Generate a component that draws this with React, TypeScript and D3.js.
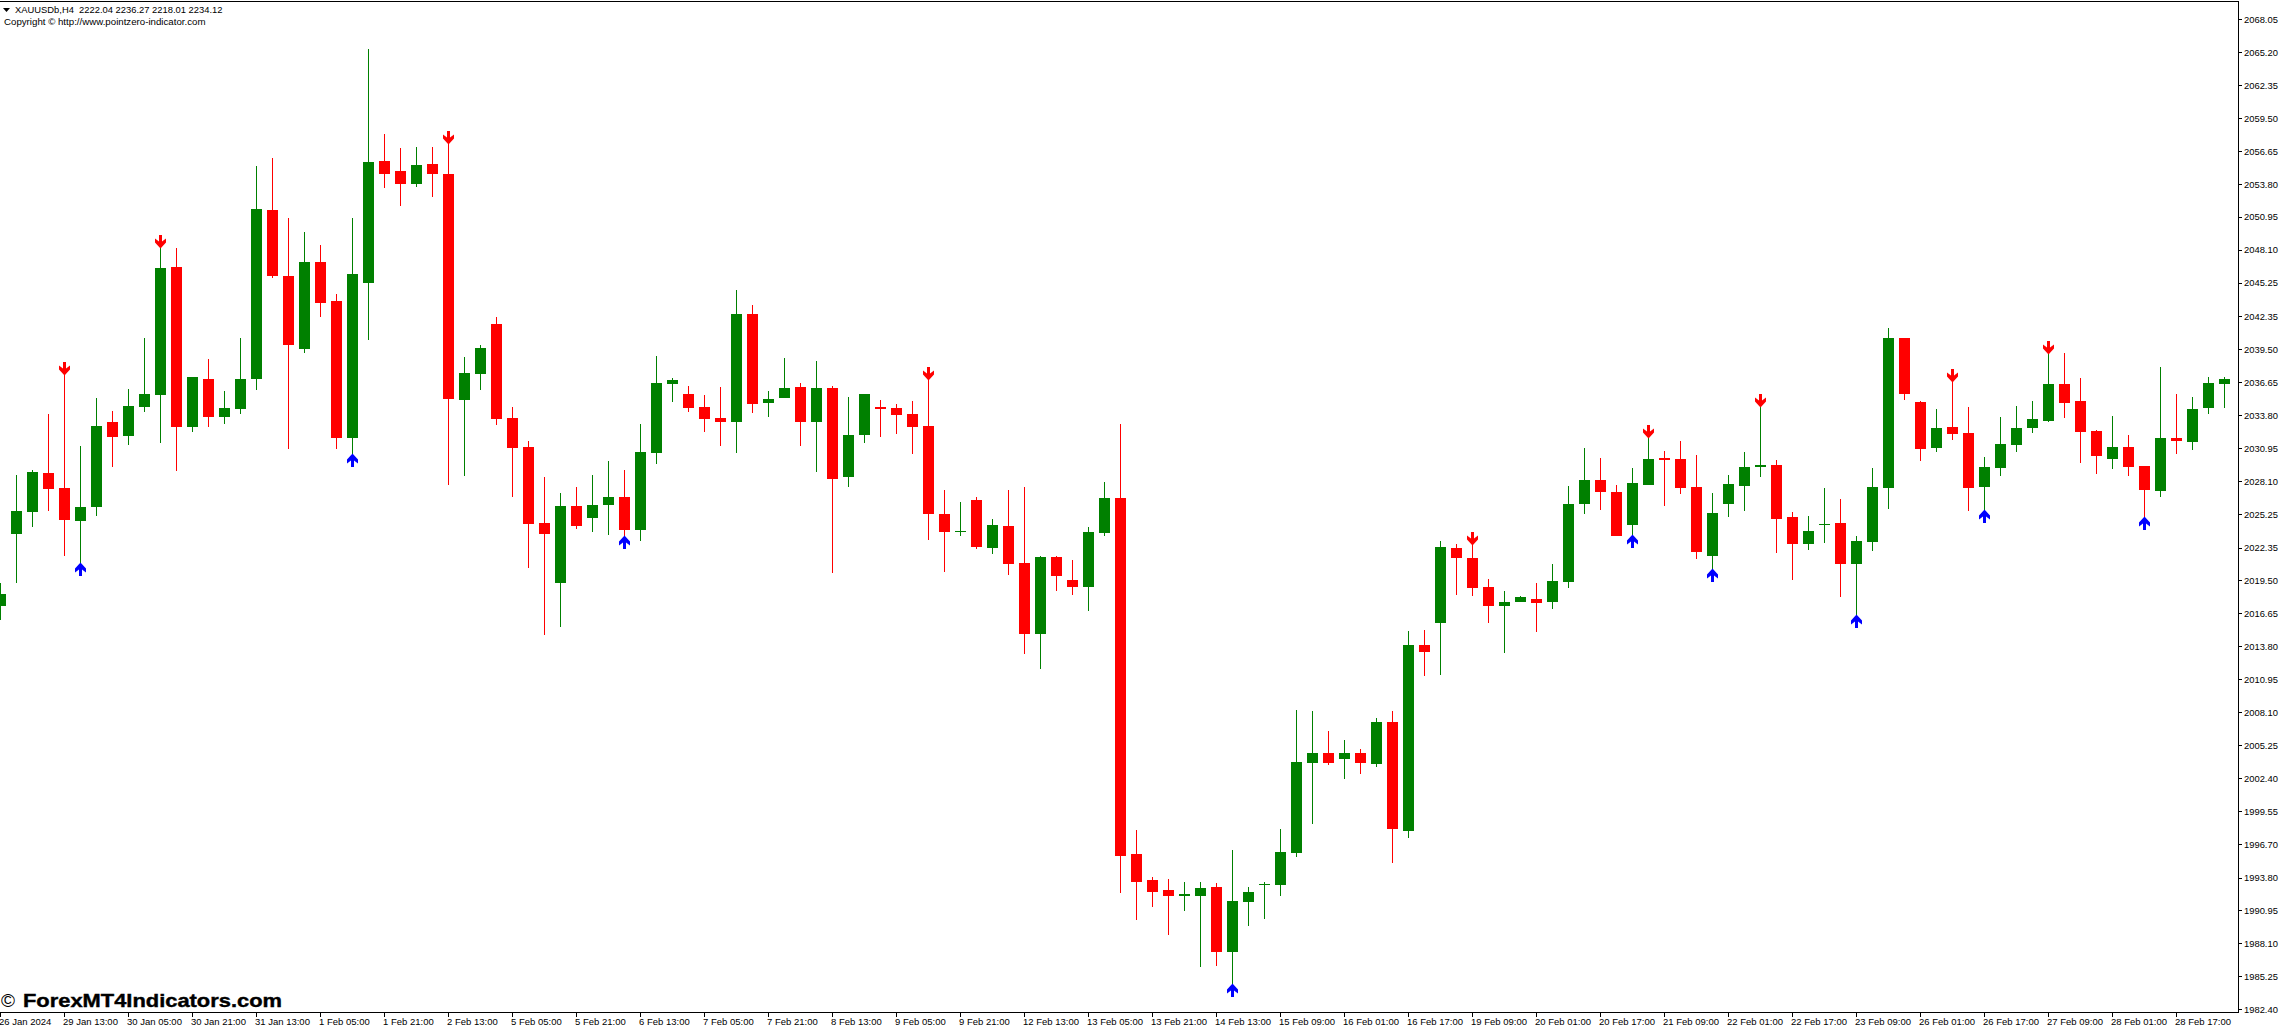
import React, { useEffect, useRef } from "react";
import * as d3 from "d3";

const opens = [
  2017.30,2023.53,2025.43,2028.80,2027.50,2024.65,2025.86,2033.21,2032.00,2034.51,
  2035.55,2046.63,2032.78,2036.93,2033.65,2034.34,2036.93,2051.56,2045.85,2039.53,
  2047.06,2043.69,2031.83,2045.24,2055.80,2054.93,2053.81,2055.54,2054.67,2035.12,
  2037.36,2041.70,2033.56,2031.05,2024.48,2019.29,2025.95,2024.91,2026.03,2026.73,
  2023.87,2030.53,2036.50,2035.63,2034.51,2033.56,2033.21,2042.56,2034.86,2035.29,
  2036.25,2033.22,2036.16,2028.46,2032.09,2034.52,2034.43,2033.91,2032.87,2025.26,
  2023.70,2026.47,2022.32,2024.22,2021.02,2014.88,2021.54,2019.55,2018.95,2023.62,
  2026.65,1995.85,1993.60,1992.74,1992.22,1992.22,1993.00,1987.38,1991.70,1993.17,
  1993.17,1995.94,2003.72,2004.59,2004.07,2004.59,2003.64,2007.27,1997.84,2013.93,
  2015.83,2022.32,2021.46,2018.95,2017.30,2017.65,2017.91,2017.65,2019.38,2026.13,
  2028.20,2027.16,2024.31,2027.77,2030.10,2030.02,2027.60,2021.63,2026.13,2027.68,
  2029.33,2029.50,2025.00,2022.67,2024.31,2024.48,2020.94,2022.84,2027.51,2040.48,
  2034.95,2030.97,2032.79,2032.27,2027.60,2029.24,2031.23,2032.70,2033.30,2036.50,
  2035.03,2032.44,2030.02,2031.06,2029.41,2027.25,2031.83,2031.49,2034.43,2036.50,
];
const highs = [
  2019.29,2028.63,2029.06,2033.90,2037.28,2031.14,2035.29,2034.16,2036.07,2040.48,
  2048.24,2048.27,2037.10,2038.66,2035.89,2040.48,2055.36,2056.05,2050.87,2049.65,
  2048.53,2044.29,2050.87,2065.48,2058.13,2056.92,2057.01,2057.01,2057.27,2038.83,
  2039.87,2042.30,2034.51,2031.57,2028.46,2027.07,2027.59,2028.63,2029.84,2029.06,
  2033.04,2038.92,2037.02,2036.33,2035.55,2036.24,2044.64,2043.34,2035.90,2038.75,
  2036.59,2038.49,2036.33,2035.38,2035.64,2035.12,2034.78,2035.03,2036.85,2027.34,
  2026.30,2026.73,2024.83,2027.34,2027.60,2021.63,2021.63,2021.28,2024.14,2028.03,
  2033.05,1997.93,1993.86,1993.69,1993.43,1993.43,1993.34,1996.20,1993.00,1993.43,
  1998.01,2008.31,2008.22,2006.49,2005.71,2004.93,2007.61,2008.22,2015.14,2015.23,
  2022.93,2022.67,2022.58,2019.64,2018.60,2018.17,2019.29,2020.94,2027.68,2030.97,
  2030.10,2027.77,2029.24,2031.81,2030.71,2031.57,2030.36,2027.08,2028.63,2030.62,
  2034.49,2029.93,2025.43,2025.09,2027.51,2026.56,2023.36,2029.24,2041.35,2040.48,
  2035.03,2034.34,2036.65,2034.52,2030.19,2033.65,2034.60,2035.03,2039.07,2039.19,
  2037.02,2032.53,2033.74,2032.09,2029.41,2037.98,2035.64,2035.38,2037.11,2037.11,
];
const lows = [
  2016.09,2019.29,2024.13,2025.52,2021.62,2020.99,2025.08,2029.32,2031.22,2034.08,
  2031.40,2028.97,2032.35,2032.78,2033.04,2033.90,2035.98,2045.68,2030.88,2039.18,
  2042.30,2030.88,2030.45,2040.31,2053.46,2051.90,2053.55,2052.68,2027.76,2028.54,
  2035.98,2032.95,2026.73,2020.59,2014.79,2015.48,2023.96,2023.70,2023.44,2023.35,
  2022.92,2029.58,2034.94,2034.08,2032.35,2031.14,2030.53,2033.99,2033.65,2035.29,
  2031.14,2028.89,2020.16,2027.60,2031.40,2031.92,2032.18,2030.45,2023.01,2020.25,
  2023.36,2022.23,2021.80,2019.99,2013.15,2011.85,2018.60,2018.26,2016.87,2023.36,
  1992.48,1990.14,1991.27,1988.85,1990.92,1986.08,1986.16,1984.61,1989.62,1990.23,
  1992.22,1995.59,1998.45,2003.55,2002.34,2002.77,2003.38,1995.07,1997.24,2011.25,
  2011.33,2018.26,2018.17,2015.83,2013.24,2017.65,2015.06,2017.04,2018.86,2025.26,
  2025.61,2023.36,2023.44,2027.77,2025.95,2026.99,2021.37,2020.48,2025.00,2025.52,
  2028.46,2021.89,2019.55,2022.15,2022.75,2018.08,2016.53,2022.06,2025.69,2035.12,
  2029.85,2030.62,2031.66,2025.52,2025.61,2028.55,2030.62,2032.27,2033.22,2033.56,
  2029.67,2028.72,2029.15,2028.55,2024.97,2026.73,2030.45,2030.80,2033.91,2034.43,
];
const closes = [
  2018.34,2025.52,2028.89,2027.42,2024.74,2025.86,2032.87,2031.92,2034.60,2035.63,
  2046.54,2032.78,2037.10,2033.65,2034.42,2036.93,2051.64,2045.85,2039.87,2047.06,
  2043.51,2031.83,2046.02,2055.71,2054.67,2053.81,2055.45,2054.67,2035.20,2037.45,
  2039.61,2033.47,2030.96,2024.39,2023.53,2025.95,2024.22,2026.03,2026.73,2023.87,
  2030.62,2036.59,2036.85,2034.42,2033.47,2033.21,2042.56,2034.77,2035.21,2036.16,
  2033.22,2036.16,2028.29,2032.09,2035.64,2034.34,2033.82,2032.79,2025.26,2023.70,
  2023.79,2022.41,2024.31,2020.94,2014.88,2021.54,2019.90,2018.95,2023.70,2026.65,
  1995.68,1993.43,1992.56,1992.22,1992.39,1992.91,1987.38,1991.79,1992.56,1993.26,
  1996.02,2003.81,2004.59,2003.72,2004.59,2003.72,2007.27,1998.01,2013.93,2013.32,
  2022.41,2021.46,2018.86,2017.30,2017.65,2018.08,2017.56,2019.47,2026.13,2028.20,
  2027.16,2023.36,2027.94,2030.02,2029.93,2027.51,2021.97,2025.35,2027.86,2029.33,
  2029.50,2024.83,2022.67,2023.79,2024.40,2020.94,2022.93,2027.60,2040.48,2035.64,
  2030.88,2032.70,2032.18,2027.51,2029.33,2031.32,2032.70,2033.48,2036.50,2034.86,
  2032.35,2030.28,2031.06,2029.33,2027.34,2031.83,2031.57,2034.34,2036.59,2036.94,
];

// candle indexes that carry an indicator arrow
const sellArrows = [4, 10, 28, 58, 92, 103, 110, 122, 128];
const buyArrows = [5, 22, 39, 77, 102, 107, 116, 124, 134];

const priceLabels = [
  "2068.05","2065.20","2062.35","2059.50","2056.65","2053.80","2050.95","2048.10",
  "2045.25","2042.35","2039.50","2036.65","2033.80","2030.95","2028.10","2025.25",
  "2022.35","2019.50","2016.65","2013.80","2010.95","2008.10","2005.25","2002.40",
  "1999.55","1996.70","1993.80","1990.95","1988.10","1985.25","1982.40",
];
const timeLabels = [
  "26 Jan 2024","29 Jan 13:00","30 Jan 05:00","30 Jan 21:00","31 Jan 13:00","1 Feb 05:00",
  "1 Feb 21:00","2 Feb 13:00","5 Feb 05:00","5 Feb 21:00","6 Feb 13:00","7 Feb 05:00",
  "7 Feb 21:00","8 Feb 13:00","9 Feb 05:00","9 Feb 21:00","12 Feb 13:00","13 Feb 05:00",
  "13 Feb 21:00","14 Feb 13:00","15 Feb 09:00","16 Feb 01:00","16 Feb 17:00","19 Feb 09:00",
  "20 Feb 01:00","20 Feb 17:00","21 Feb 09:00","22 Feb 01:00","22 Feb 17:00","23 Feb 09:00",
  "26 Feb 01:00","26 Feb 17:00","27 Feb 09:00","28 Feb 01:00","28 Feb 17:00",
];

const W = 2280;
const H = 1027;
const plotRight = 2238.5;
const plotBottom = 1012.5;
const GREEN = "#008000";
const RED = "#ff0000";
const BLUE = "#0000ff";
const FONT = "'Liberation Sans', Arial, sans-serif";

export default function App() {
  const ref = useRef<SVGSVGElement>(null);

  useEffect(() => {
    const svg = d3.select(ref.current);
    svg.selectAll("*").remove();

    const x = d3.scaleLinear().domain([0, opens.length - 1]).range([0.5, 2224.5]);
    const y = d3.scaleLinear().domain([1982.4, 2068.05]).range([1009.3, 19.3]);
    const candles = opens.map((o, i) => ({ i, o, h: highs[i], l: lows[i], c: closes[i] }));
    const color = (d: any) => (d.c >= d.o ? GREEN : RED);

    const g = svg.append("g").attr("shape-rendering", "crispEdges");
    // wicks
    g.selectAll("rect.wick")
      .data(candles)
      .join("rect")
      .attr("class", "wick")
      .attr("x", (d) => Math.floor(x(d.i)))
      .attr("y", (d) => Math.round(y(d.h)))
      .attr("width", 1)
      .attr("height", (d) => Math.max(1, Math.round(y(d.l)) - Math.round(y(d.h))))
      .attr("fill", color);
    // bodies
    g.selectAll("rect.body")
      .data(candles)
      .join("rect")
      .attr("class", "body")
      .attr("x", (d) => x(d.i) - 5.5)
      .attr("y", (d) => Math.round(y(Math.max(d.o, d.c))))
      .attr("width", 11)
      .attr("height", (d) => Math.max(1, Math.round(y(Math.min(d.o, d.c))) - Math.round(y(Math.max(d.o, d.c)))))
      .attr("fill", color);

    // arrows, tip on the high / low of the candle
    const arrowPath = "M-1.5,0L1.5,0L1.5,6.5L5.5,3.5L5.5,7.5L0,13.5L-5.5,7.5L-5.5,3.5L-1.5,6.5Z";
    svg.append("g")
      .selectAll("path")
      .data(sellArrows)
      .join("path")
      .attr("d", arrowPath)
      .attr("fill", RED)
      .attr("transform", (i) => `translate(${x(i)},${Math.round(y(highs[i])) - 13})`);
    svg.append("g")
      .selectAll("path")
      .data(buyArrows)
      .join("path")
      .attr("d", arrowPath)
      .attr("fill", BLUE)
      .attr("transform", (i) => `translate(${x(i)},${Math.round(y(lows[i])) + 13}) scale(1,-1)`);

    // frame
    const frame = svg.append("g").attr("stroke", "#000").attr("shape-rendering", "crispEdges");
    frame.append("line").attr("x1", 0).attr("x2", plotRight).attr("y1", 1.5).attr("y2", 1.5);
    frame.append("line").attr("x1", plotRight).attr("x2", plotRight).attr("y1", 1).attr("y2", plotBottom);
    frame.append("line").attr("x1", 0).attr("x2", plotRight).attr("y1", plotBottom).attr("y2", plotBottom);

    // price axis
    const priceTicks = priceLabels.map((s) => +s);
    frame.selectAll("line.ptick")
      .data(priceTicks)
      .join("line")
      .attr("class", "ptick")
      .attr("x1", plotRight)
      .attr("x2", plotRight + 3)
      .attr("y1", (d) => Math.round(y(d)) + 0.5)
      .attr("y2", (d) => Math.round(y(d)) + 0.5);
    svg.append("g")
      .selectAll("text")
      .data(priceLabels)
      .join("text")
      .attr("x", 2244)
      .attr("y", (d) => y(+d) + 3.5)
      .attr("font-family", FONT)
      .attr("font-size", 9.4)
      .attr("fill", "#000")
      .text((d) => d);

    // time axis, one label every 4 candles
    frame.selectAll("line.ttick")
      .data(timeLabels)
      .join("line")
      .attr("class", "ttick")
      .attr("x1", (_, k) => Math.floor(x(k * 4)) + 0.5)
      .attr("x2", (_, k) => Math.floor(x(k * 4)) + 0.5)
      .attr("y1", plotBottom)
      .attr("y2", plotBottom + 4);
    svg.append("g")
      .selectAll("text")
      .data(timeLabels)
      .join("text")
      .attr("x", (_, k) => Math.floor(x(k * 4)) - 1)
      .attr("y", 1025)
      .attr("font-family", FONT)
      .attr("font-size", 9.5)
      .attr("fill", "#000")
      .text((d) => d);

    // header
    svg.append("path").attr("d", "M3,8L10,8L6.5,12Z").attr("fill", "#000");
    svg.append("text")
      .attr("x", 15)
      .attr("y", 12.5)
      .attr("font-family", FONT)
      .attr("font-size", 9.4)
      .style("white-space", "pre")
      .text("XAUUSDb,H4  2222.04 2236.27 2218.01 2234.12");
    svg.append("text")
      .attr("x", 4)
      .attr("y", 25)
      .attr("font-family", FONT)
      .attr("font-size", 9.7)
      .text("Copyright © http://www.pointzero-indicator.com");

    // watermark
    svg.append("text")
      .attr("x", 1)
      .attr("y", 1006.7)
      .attr("font-family", FONT)
      .attr("font-size", 19)
      .text("©");
    svg.append("text")
      .attr("x", 23)
      .attr("y", 1006.7)
      .attr("font-family", FONT)
      .attr("font-size", 18.5)
      .attr("font-weight", 700)
      .attr("stroke", "#000")
      .attr("stroke-width", 0.4)
      .attr("textLength", 259)
      .attr("lengthAdjust", "spacingAndGlyphs")
      .text("ForexMT4Indicators.com");
  }, []);

  return (
    <svg
      ref={ref}
      width={W}
      height={H}
      viewBox={`0 0 ${W} ${H}`}
      style={{ position: "absolute", left: 0, top: 0, background: "#fff" }}
    />
  );
}
